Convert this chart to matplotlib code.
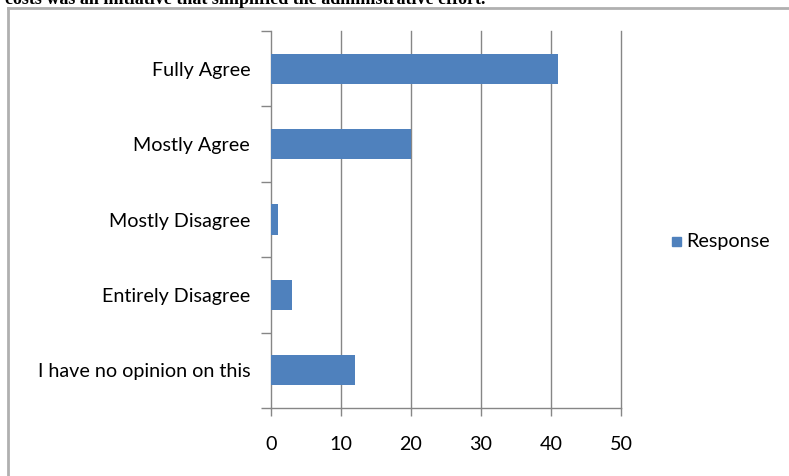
import matplotlib
matplotlib.use('Agg')
import matplotlib.pyplot as plt
from matplotlib.patches import Rectangle
from matplotlib.lines import Line2D

# survey responses, top to bottom
categories = ['Fully Agree', 'Mostly Agree', 'Mostly Disagree', 'Entirely Disagree', 'I have no opinion on this']
responses = [41, 20, 1, 3, 12]
x_ticks = [0, 10, 20, 30, 40, 50]
series_name = 'Response'
heading = 'costs was an initiative that simplified the administrative effort.'

bar_color = '#4F81BD'
axis_gray = '#868686'
label_font = 'Lato'
label_size = 14.2

W, H = 789, 476
fig = plt.figure(figsize = (W / 100, H / 100), dpi = 100)
fig.patch.set_facecolor('white')

# clipped heading line of the surrounding document
fig.text(5 / W, 1 - 4 / H, heading, family = 'Liberation Serif', weight = 'bold',
         fontsize = 13, ha = 'left', va = 'baseline', color = 'black')

# chart frame (only top and left edges fall inside the figure)
fig.add_artist(Line2D([8 / W, 8 / W], [0, 1 - 8 / H], color = '#b0b0b0', linewidth = 2, transform = fig.transFigure))
fig.add_artist(Line2D([8 / W, 1], [1 - 8 / H, 1 - 8 / H], color = '#b0b0b0', linewidth = 2, transform = fig.transFigure))

ax = fig.add_axes([271 / W, (H - 408) / H, 350 / W, 377 / H])

pos = list(range(len(categories)))
ax.barh(pos, responses, height = 0.4, color = bar_color, zorder = 3)
ax.set_ylim(len(categories) - 0.5, -0.5)
ax.set_xlim(0, 50)

ax.set_yticks(pos)
ax.set_yticklabels(categories, family = label_font, fontsize = label_size, color = 'black')
ax.set_yticks([p + 0.5 for p in [-1] + pos], minor = True)
ax.tick_params(axis = 'y', which = 'major', length = 0, pad = 15)
ax.tick_params(axis = 'y', which = 'minor', length = 7, color = axis_gray, width = 1)

ax.set_xticks(x_ticks)
ax.set_xticklabels([str(t) for t in x_ticks], family = label_font, fontsize = label_size, color = 'black')
ax.tick_params(axis = 'x', length = 6, color = axis_gray, width = 1, pad = 14)

# vertical gridlines, drawn unclipped so the one at 50 keeps full width
for t in x_ticks[1:]:
    ax.axvline(t, color = axis_gray, linewidth = 1, zorder = 0, clip_on = False)
for side in ['top', 'right']:
    ax.spines[side].set_visible(False)
for side in ['left', 'bottom']:
    ax.spines[side].set_color(axis_gray)
    ax.spines[side].set_linewidth(1)

# legend entry
fig.add_artist(Rectangle((672 / W, 1 - 246 / H), 9 / W, 9 / H, color = bar_color, transform = fig.transFigure))
fig.text(686 / W, 1 - 242 / H, series_name, family = label_font, fontsize = label_size, ha = 'left', va = 'center')

fig.savefig('out.png', dpi = 100)
